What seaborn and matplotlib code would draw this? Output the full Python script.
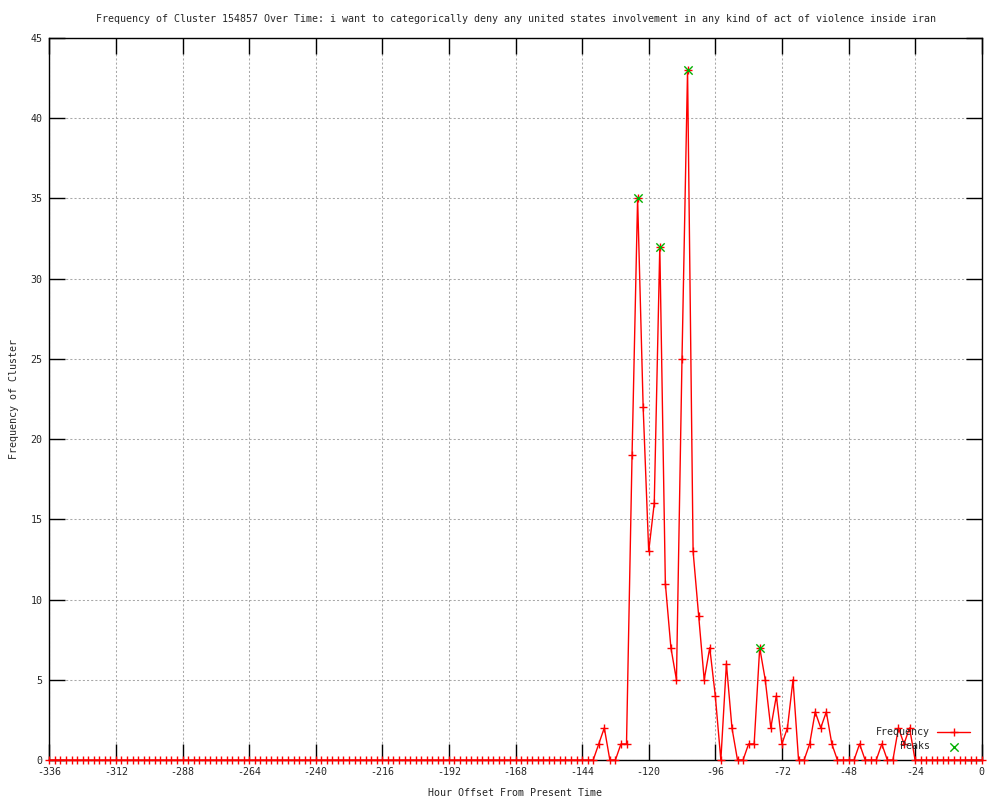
import numpy as np
import pandas as pd
import matplotlib
matplotlib.use("Agg")
import matplotlib.pyplot as plt
import seaborn as sns

# hour offsets, one reading every two hours
hours = list(range(-336, 1, 2))

# cluster frequency per reading (-336 .. 0)
freq = [
    0, 0, 0, 0, 0, 0, 0, 0, 0, 0, 0, 0, 0, 0, 0, 0, 0, 0, 0, 0,   # -336 .. -298
    0, 0, 0, 0, 0, 0, 0, 0, 0, 0, 0, 0, 0, 0, 0, 0, 0, 0, 0, 0,   # -296 .. -258
    0, 0, 0, 0, 0, 0, 0, 0, 0, 0, 0, 0, 0, 0, 0, 0, 0, 0, 0, 0,   # -256 .. -218
    0, 0, 0, 0, 0, 0, 0, 0, 0, 0, 0, 0, 0, 0, 0, 0, 0, 0, 0, 0,   # -216 .. -178
    0, 0, 0, 0, 0, 0, 0, 0, 0, 0, 0, 0, 0, 0, 0, 0, 0, 0, 0, 1,   # -176 .. -138
    2, 0, 0, 1, 1, 19, 35, 22, 13, 16, 32, 11, 7, 5, 25, 43, 13, 9, 5, 7,   # -136 .. -98
    4, 0, 6, 2, 0, 0, 1, 1, 7, 5, 2, 4, 1, 2, 5, 0, 0, 1, 3, 2,   # -96 .. -58
    3, 1, 0, 0, 0, 0, 1, 0, 0, 0, 1, 0, 0, 2, 1, 2, 0, 0, 0, 0,   # -56 .. -18
    0, 0, 0, 0, 0, 0, 0, 0, 0,                                    # -16 .. 0
]

peak_hours = [-124, -116, -106, -80]
peak_freq = [35, 32, 43, 7]

title = ("Frequency of Cluster 154857 Over Time: i want to categorically deny any "
         "united states involvement in any kind of act of violence inside iran")

df = pd.DataFrame({"hour": hours, "freq": freq})
peaks = pd.DataFrame({"hour": peak_hours, "freq": peak_freq})

sns.set_style("white")
plt.rcParams["font.family"] = ["DejaVu Sans Mono"]
plt.rcParams["font.size"] = 7.2
plt.rcParams["axes.unicode_minus"] = False

fig = plt.figure(figsize=(10, 8), dpi=100)
ax = fig.add_axes([0.0493, 0.05, 0.9324, 0.9025])

sns.lineplot(data=df, x="hour", y="freq", ax=ax, color="red", linewidth=1.0,
             marker="+", markersize=6, markeredgewidth=1.0, markeredgecolor="red",
             label="Frequency", clip_on=False, zorder=3)
sns.scatterplot(data=peaks, x="hour", y="freq", ax=ax, color="#00b000", marker="x",
                s=36, linewidth=1.0, label="Peaks", zorder=4)

ax.set_xlim(-336, 0)
ax.set_ylim(0, 45)
ax.set_xticks(range(-336, 1, 24))
ax.set_yticks(range(0, 46, 5))
ax.grid(True, color="#a8a8a8", linestyle=(0, (2, 2)), linewidth=0.75)
for s in ax.spines.values():
    s.set_color("black")
    s.set_linewidth(1.0)
ax.tick_params(direction="in", length=11.5, width=1.0, top=True, right=True,
               bottom=True, left=True, color="black", labelsize=7.2, pad=5)

ax.set_title(title, fontsize=7.2, pad=11.3)
ax.set_xlabel("Hour Offset From Present Time", labelpad=8)
ax.set_ylabel("Frequency of Cluster")
ax.yaxis.set_label_coords(-0.0325, 0.5)

ax.legend(loc="lower right", bbox_to_anchor=(0.9875, 0.012), frameon=False,
          markerfirst=False, handlelength=3.3, fontsize=7.2, borderpad=0.0,
          borderaxespad=0.0, labelspacing=0.4, handletextpad=0.7)

plt.savefig("out.png", dpi=100)
